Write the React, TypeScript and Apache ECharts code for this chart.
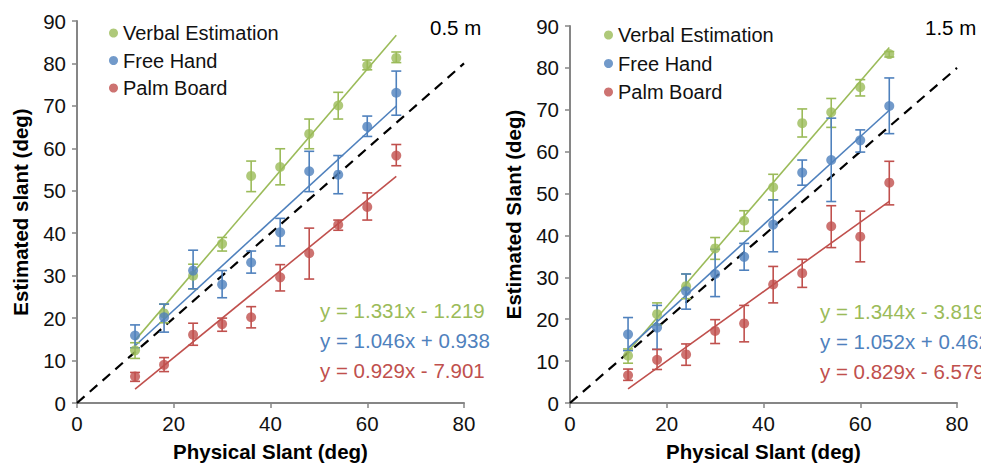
import React, { useEffect, useRef } from "react";
import * as echarts from "echarts";

const physicalSlant = [12, 18, 24, 30, 36, 42, 48, 54, 60, 66];
const seriesNames = ["Verbal Estimation", "Free Hand", "Palm Board"];
const xTicks = [0, 20, 40, 60, 80];

// 0.5 m panel
const verbalNear = [12.4, 21.1, 30.0, 37.5, 53.5, 55.6, 63.4, 70.1, 79.5, 81.3];
const verbalNearLo = [10.5, 18.9, 26.9, 35.8, 49.8, 51.4, 59.9, 66.9, 78.5, 80.2];
const verbalNearHi = [14.2, 23.3, 32.7, 39.0, 57.0, 59.9, 66.9, 73.2, 80.8, 82.7];
const freeNear = [15.9, 20.2, 31.2, 27.9, 33.1, 40.2, 54.6, 53.8, 65.1, 73.1];
const freeNearLo = [13.0, 16.7, 26.9, 24.8, 30.6, 37.0, 49.8, 49.3, 62.8, 67.8];
const freeNearHi = [18.4, 23.3, 36.0, 31.2, 35.8, 43.5, 59.3, 58.3, 67.6, 78.2];
const palmNear = [6.25, 9.0, 16.1, 18.6, 20.2, 29.6, 35.3, 42.0, 46.2, 58.3];
const palmNearLo = [5.1, 7.4, 13.6, 16.9, 17.7, 26.4, 29.2, 40.7, 43.1, 55.9];
const palmNearHi = [7.2, 10.7, 18.8, 20.0, 22.7, 32.6, 41.2, 43.1, 49.5, 60.9];
const slopesNear = [1.331, 1.046, 0.929];
const interceptsNear = [-1.219, 0.938, -7.901];
const equationsNear = ["y = 1.331x - 1.219", "y = 1.046x + 0.938", "y = 0.929x - 7.901"];

// 1.5 m panel
const verbalFar = [11.3, 21.2, 27.9, 36.9, 43.5, 51.5, 66.8, 69.4, 75.4, 83.3];
const verbalFarLo = [9.5, 18.6, 24.9, 34.3, 41.0, 48.5, 63.5, 65.8, 73.3, 82.6];
const verbalFarHi = [12.9, 23.9, 30.8, 39.5, 45.9, 54.6, 70.2, 72.7, 77.2, 83.9];
const freeFar = [16.4, 18.0, 26.7, 30.8, 34.9, 42.6, 55.0, 58.0, 62.7, 70.9];
const freeFarLo = [12.5, 12.8, 22.4, 25.4, 31.7, 36.1, 52.0, 48.1, 59.9, 64.3];
const freeFarHi = [20.4, 23.3, 30.8, 36.7, 38.1, 48.5, 58.0, 68.0, 65.2, 77.6];
const palmFar = [6.6, 10.3, 11.6, 17.2, 19.0, 28.3, 31.0, 42.2, 39.7, 52.6];
const palmFarLo = [5.4, 8.0, 9.0, 14.2, 14.6, 23.9, 27.6, 37.1, 33.7, 47.3];
const palmFarHi = [8.1, 12.8, 14.1, 19.9, 23.3, 32.6, 34.3, 47.1, 45.8, 57.7];
const slopesFar = [1.344, 1.052, 0.829];
const interceptsFar = [-3.819, 0.462, -6.579];
const equationsFar = ["y = 1.344x - 3.819", "y = 1.052x + 0.462", "y = 0.829x - 6.579"];

const colors = ["#9bbb59", "#4f81bd", "#c0504d"];
const FONT = "'Liberation Sans', Arial, Helvetica, sans-serif";

export default function App() {
  const ref = useRef<HTMLDivElement>(null);
  useEffect(() => {
    document.body.style.margin = "0";
    if (!ref.current) return;
    const chart = echarts.init(ref.current, undefined, { renderer: "svg" });

    const panels = [
      {
        means: [verbalNear, freeNear, palmNear],
        lo: [verbalNearLo, freeNearLo, palmNearLo],
        hi: [verbalNearHi, freeNearHi, palmNearHi],
        slopes: slopesNear,
        intercepts: interceptsNear,
      },
      {
        means: [verbalFar, freeFar, palmFar],
        lo: [verbalFarLo, freeFarLo, palmFarLo],
        hi: [verbalFarHi, freeFarHi, palmFarHi],
        slopes: slopesFar,
        intercepts: interceptsFar,
      },
    ];

    const series: any[] = [];
    panels.forEach((p, pi) => {
      series.push({
        type: "line",
        name: "identity" + pi,
        xAxisIndex: pi,
        yAxisIndex: pi,
        data: [
          [0, 0],
          [80, 80],
        ],
        symbol: "none",
        lineStyle: { color: "#000", width: 2.2, type: [10, 7] },
        z: 4,
        silent: true,
      });
      for (let k = 0; k < 3; k++) {
        const x0 = physicalSlant[0];
        const x1 = physicalSlant[physicalSlant.length - 1];
        series.push({
          type: "line",
          name: "fit" + pi + k,
          xAxisIndex: pi,
          yAxisIndex: pi,
          data: [
            [x0, p.slopes[k] * x0 + p.intercepts[k]],
            [x1, p.slopes[k] * x1 + p.intercepts[k]],
          ],
          symbol: "none",
          lineStyle: { color: colors[k], width: 1.6 },
          z: 3,
          silent: true,
        });
        const col = colors[k];
        series.push({
          type: "custom",
          name: "err" + pi + k,
          xAxisIndex: pi,
          yAxisIndex: pi,
          data: physicalSlant.map((x, i) => [x, p.lo[k][i], p.hi[k][i]]),
          encode: { x: 0, y: [1, 2] },
          renderItem: (params: any, api: any) => {
            const a = api.coord([api.value(0), api.value(1)]);
            const b = api.coord([api.value(0), api.value(2)]);
            const w = 5;
            const st = { stroke: col, lineWidth: 1.6 };
            return {
              type: "group",
              children: [
                { type: "line", shape: { x1: a[0], y1: a[1], x2: b[0], y2: b[1] }, style: st },
                { type: "line", shape: { x1: a[0] - w, y1: a[1], x2: a[0] + w, y2: a[1] }, style: st },
                { type: "line", shape: { x1: b[0] - w, y1: b[1], x2: b[0] + w, y2: b[1] }, style: st },
              ],
            };
          },
          z: 5,
          silent: true,
        });
        series.push({
          type: "scatter",
          name: seriesNames[k],
          xAxisIndex: pi,
          yAxisIndex: pi,
          data: physicalSlant.map((x, i) => [x, p.means[k][i]]),
          symbol: "circle",
          symbolSize: 10,
          itemStyle: { color: col },
          z: 6,
        });
      }
    });

    const axisLine = { show: true, lineStyle: { color: "#868686", width: 2 } };
    const axisTick = { show: true, inside: false, length: 5, lineStyle: { color: "#868686", width: 1.5 } };
    const labelStyle = { color: "#111", fontSize: 20.5, fontFamily: FONT };
    const nameStyle = { color: "#000", fontSize: 20.5, fontWeight: "bold" as const, fontFamily: FONT };

    const grids = [
      { left: 77, top: 21, width: 387, height: 387 },
      { left: 570, top: 26, width: 387, height: 381 },
    ];
    const yNames = ["Estimated slant (deg)", "Estimated Slant (deg)"];

    const legendBase = {
      orient: "vertical" as const,
      data: seriesNames,
      icon: "circle",
      itemWidth: 9,
      itemHeight: 9,
      itemGap: 7.5,
      selectedMode: false,
      textStyle: { color: "#111", fontSize: 20, fontFamily: FONT, lineHeight: 20 },
    };

    const graphics: any[] = [];
    const eqX = [320, 820];
    const eqY = [[310, 340, 370], [311, 341, 371]];
    [equationsNear, equationsFar].forEach((eqs, pi) => {
      eqs.forEach((t, k) => {
        graphics.push({
          type: "text",
          x: eqX[pi],
          y: eqY[pi][k],
          style: { text: t, fill: colors[k], fontSize: 20.5, fontFamily: FONT, verticalAlign: "middle" },
        });
      });
    });
    const distLabels = ["0.5 m", "1.5 m"];
    const distX = [430, 925];
    distLabels.forEach((t, pi) => {
      graphics.push({
        type: "text",
        x: distX[pi],
        y: 27,
        style: { text: t, fill: "#000", fontSize: 20.5, fontFamily: FONT, verticalAlign: "middle" },
      });
    });

    chart.setOption({
      animation: false,
      backgroundColor: "#fff",
      grid: grids,
      xAxis: grids.map((_, i) => ({
        type: "value",
        gridIndex: i,
        min: xTicks[0],
        max: xTicks[xTicks.length - 1],
        interval: 20,
        axisLine,
        axisTick,
        splitLine: { show: false },
        axisLabel: { ...labelStyle, margin: 10 },
        name: "Physical Slant (deg)",
        nameLocation: "middle",
        nameGap: 38,
        nameTextStyle: nameStyle,
      })),
      yAxis: grids.map((_, i) => ({
        type: "value",
        gridIndex: i,
        min: 0,
        max: 90,
        interval: 10,
        axisLine,
        axisTick,
        splitLine: { show: false },
        axisLabel: { ...labelStyle, margin: 11 },
        name: yNames[i],
        nameLocation: "middle",
        nameGap: 46,
        nameTextStyle: nameStyle,
      })),
      legend: [
        { ...legendBase, left: 104, top: 18 },
        { ...legendBase, left: 599, top: 20, itemGap: 8.5 },
      ],
      graphic: graphics,
      series,
    });
    return () => chart.dispose();
  }, []);
  return <div ref={ref} style={{ width: 981, height: 467 }} />;
}
